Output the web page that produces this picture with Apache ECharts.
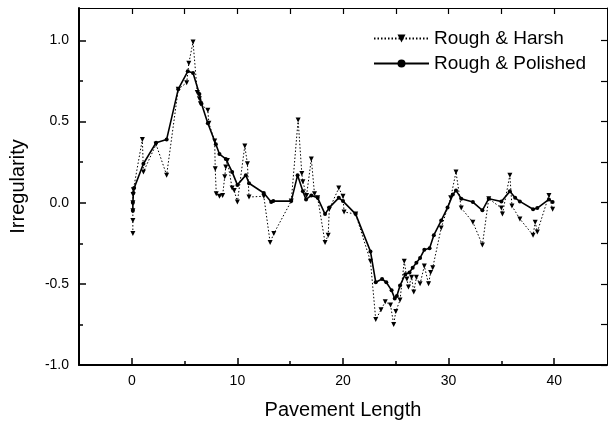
<!DOCTYPE html>
<html>
<head>
<meta charset="utf-8">
<script src="https://cdn.jsdelivr.net/npm/echarts@6/dist/echarts.min.js"></script>
<style>html,body{margin:0;padding:0;background:#fff}#c{width:608px;height:425px}</style>
</head>
<body>
<div id="c"></div>
<script>
const harshX = [0.1,0.1,0.1,0.1,0.12,0.15,1.0,1.1,2.3,3.3,4.4,5.2,5.4,5.8,6.2,6.4,6.5,7.2,7.3,7.85,7.9,8.0,8.3,8.6,8.8,8.9,9.05,9.5,9.7,10.0,10.7,10.95,11.1,12.5,13.1,13.45,15.1,15.75,16.1,16.2,16.55,17.0,17.3,17.6,18.3,18.6,18.7,19.6,20.0,20.1,21.2,22.6,23.1,23.6,24.0,24.5,24.8,25.0,25.4,25.8,26.05,26.2,26.5,26.7,26.95,27.3,27.7,28.1,28.3,28.5,29.3,30.2,30.7,31.2,32.3,33.2,33.8,35.0,35.1,35.8,36.0,36.75,38.0,38.2,38.4,39.5,39.85];
const harshY = [-0.19,-0.11,-0.05,0.0,0.05,0.08,0.39,0.19,0.36,0.17,0.70,0.74,0.86,0.99,0.68,0.64,0.61,0.57,0.49,0.38,0.21,0.055,0.04,0.045,0.16,0.22,0.26,0.09,0.076,0.004,0.35,0.24,0.035,0.04,-0.245,-0.19,0.01,0.51,0.18,0.13,0.045,0.27,0.055,0.03,-0.245,-0.20,-0.04,0.09,0.04,-0.057,-0.07,-0.36,-0.72,-0.66,-0.61,-0.63,-0.75,-0.67,-0.60,-0.36,-0.47,-0.52,-0.46,-0.55,-0.46,-0.50,-0.39,-0.50,-0.43,-0.40,-0.155,0.03,0.19,-0.033,-0.12,-0.26,0.025,-0.033,-0.07,0.17,-0.02,-0.10,-0.20,-0.12,-0.18,0.045,-0.04];
const polishedX = [0.1,0.1,0.15,0.22,1.1,2.3,3.3,4.4,5.3,5.8,6.4,6.6,7.2,7.96,8.3,8.9,9.5,10.0,10.8,11.1,12.5,13.2,13.4,15.1,15.7,16.2,16.5,17.0,17.6,18.3,18.7,19.6,20.0,21.2,22.6,23.1,23.7,24.1,24.6,24.9,25.1,25.4,25.9,26.3,26.6,26.95,27.3,27.7,28.2,28.6,29.3,29.9,30.4,30.7,31.2,32.3,33.2,33.8,35.0,35.8,36.3,36.75,38.0,38.4,39.5,39.85];
const polishedY = [-0.05,0.0,0.06,0.09,0.24,0.37,0.39,0.70,0.81,0.80,0.67,0.61,0.49,0.36,0.30,0.27,0.19,0.11,0.17,0.12,0.06,0.004,0.01,0.01,0.17,0.07,0.02,0.045,0.03,-0.07,-0.03,0.03,0.01,-0.07,-0.30,-0.49,-0.47,-0.49,-0.54,-0.59,-0.575,-0.51,-0.44,-0.43,-0.40,-0.37,-0.34,-0.29,-0.28,-0.20,-0.11,-0.03,0.05,0.076,0.025,0.004,-0.047,0.025,0.008,0.07,0.03,0.008,-0.04,-0.033,0.02,0.004];
const xMajor = [0,10,20,30,40];
const xMinor = [5,15,25,35];
const xAll = [0,5,10,15,20,25,30,35,40];
const yMajor = [-1.0,-0.5,0.0,0.5,1.0];
const yMinor = [-0.75,-0.25,0.25,0.75];
const yAll = [-1.0,-0.75,-0.5,-0.25,0.0,0.25,0.5,0.75,1.0];
const seriesNames = ['Rough & Harsh','Rough & Polished'];

const FF = '"Liberation Sans", Arial, sans-serif';
const pair = (xs, ys) => xs.map((x,i)=>[x, ys[i]]);
const chart = echarts.init(document.getElementById('c'), null, {renderer:'canvas'});
const base = (extra) => Object.assign({
  type:'value', min:-5, max:45, splitLine:{show:false},
  axisLine:{show:false, onZero:false}, axisLabel:{show:false}, axisTick:{show:false}
}, extra);
const baseY = (extra) => Object.assign({
  type:'value', min:-1.0, max:1.2, splitLine:{show:false},
  axisLine:{show:false, onZero:false}, axisLabel:{show:false}, axisTick:{show:false}
}, extra);
chart.setOption({
  animation:false,
  backgroundColor:'#fff',
  grid:{left:77, right:1, top:8, bottom:58},
  legend:{
    left:368, top:24, orient:'vertical', itemWidth:55, itemHeight:10, itemGap:6,
    textStyle:{fontSize:19, color:'#000', fontFamily:FF},
    data:seriesNames
  },
  xAxis:[
    base({position:'bottom',
      axisLine:{show:true, onZero:false, lineStyle:{color:'#000', width:2}},
      axisTick:{show:true, inside:true, length:7, customValues:xMajor, lineStyle:{color:'#000', width:1.5}},
      axisLabel:{show:true, customValues:xMajor, margin:9, fontSize:14, color:'#000', fontFamily:FF},
      name:'Pavement Length', nameLocation:'middle', nameGap:35,
      nameTextStyle:{fontSize:20, color:'#000', fontFamily:FF}}),
    base({position:'bottom',
      axisTick:{show:true, inside:true, length:4, customValues:xMinor, lineStyle:{color:'#000', width:1.5}}}),
    base({position:'top',
      axisLine:{show:true, onZero:false, lineStyle:{color:'#000', width:1}},
      axisTick:{show:true, inside:true, length:6, customValues:xAll, lineStyle:{color:'#000', width:1.2}}})
  ],
  yAxis:[
    baseY({position:'left',
      axisLine:{show:true, onZero:false, lineStyle:{color:'#000', width:2}},
      axisTick:{show:true, inside:true, length:7, customValues:yMajor, lineStyle:{color:'#000', width:1.5}},
      axisLabel:{show:true, customValues:yMajor, margin:10, fontSize:14, color:'#000', fontFamily:FF,
        formatter:(v)=>Number(v).toFixed(1)},
      name:'Irregularity', nameLocation:'middle', nameGap:51, nameRotate:90,
      nameTextStyle:{fontSize:20, color:'#000', fontFamily:FF}}),
    baseY({position:'left',
      axisTick:{show:true, inside:true, length:4, customValues:yMinor, lineStyle:{color:'#000', width:1.5}}}),
    baseY({position:'right',
      axisLine:{show:true, onZero:false, lineStyle:{color:'#000', width:1}},
      axisTick:{show:true, inside:true, length:6, customValues:yAll, lineStyle:{color:'#000', width:1.2}}})
  ],
  series:[
    {name:seriesNames[0], type:'line', xAxisIndex:0, yAxisIndex:0,
     data:pair(harshX, harshY),
     symbol:'triangle', symbolRotate:180, symbolSize:5,
     lineStyle:{color:'#000', width:1, type:[1.5,2]},
     itemStyle:{color:'#000'}, z:2},
    {name:seriesNames[1], type:'line', xAxisIndex:0, yAxisIndex:0,
     data:pair(polishedX, polishedY),
     symbol:'circle', symbolSize:4,
     lineStyle:{color:'#000', width:1.6, type:'solid'},
     itemStyle:{color:'#000'}, z:3}
  ]
});
</script>
</body>
</html>
